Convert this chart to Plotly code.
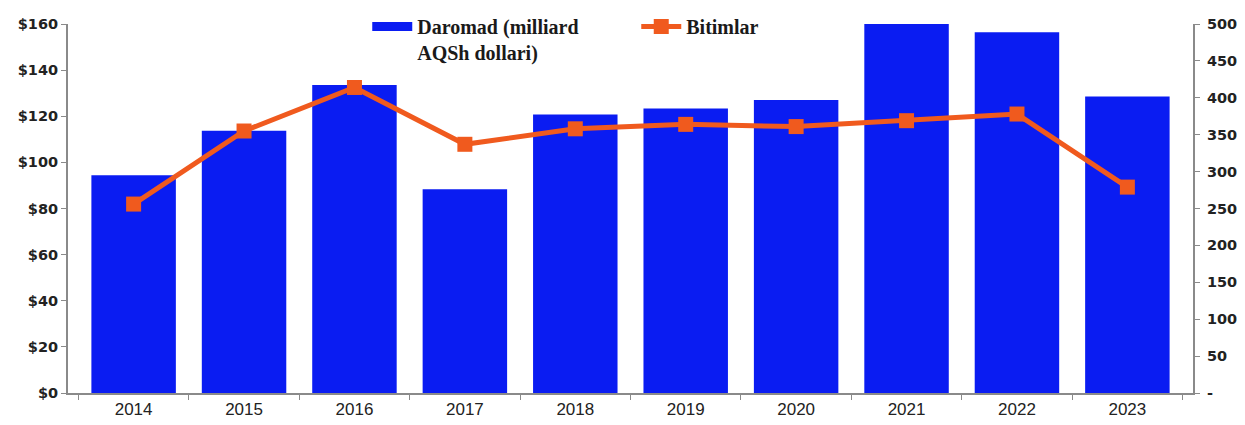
import plotly.graph_objects as go

years = ["2014", "2015", "2016", "2017", "2018", "2019", "2020", "2021", "2022", "2023"]
revenue = [94.4, 113.7, 133.6, 88.3, 120.8, 123.4, 127.1, 160.0, 156.4, 128.6]
deals = [256, 355, 414, 337, 358, 364, 361, 369, 378, 279]

left_vals = [0, 20, 40, 60, 80, 100, 120, 140, 160]
left_text = ["$0", "$20", "$40", "$60", "$80", "$100", "$120", "$140", "$160"]
right_vals = [0, 50, 100, 150, 200, 250, 300, 350, 400, 450, 500]
right_text = ["-", "50", "100", "150", "200", "250", "300", "350", "400", "450", "500"]

bar_name = "Daromad (milliard<br>AQSh dollari)"
line_name = "Bitimlar"

bar_color = "#0A1CF2"
line_color = "#F05A1E"

fig = go.Figure()
fig.add_trace(go.Bar(
    x=years, y=revenue, name=bar_name,
    marker=dict(color=bar_color, line=dict(width=0)),
    yaxis="y", showlegend=False, legendgroup="rev",
))
# legend entry for the bars, drawn as a wide flat swatch like the original
fig.add_trace(go.Scatter(
    x=[None], y=[None], name=bar_name, mode="lines",
    line=dict(color=bar_color, width=9),
    yaxis="y", legendgroup="rev", hoverinfo="skip",
))
fig.add_trace(go.Scatter(
    x=years, y=deals, name=line_name, mode="lines+markers",
    line=dict(color=line_color, width=5),
    marker=dict(symbol="square", size=15, color=line_color),
    yaxis="y2",
))

axis_col = "#8a8a8a"
ytick_font = dict(family="DejaVu Sans", size=14.5, color="#222222", weight="bold")
fig.update_layout(
    width=1245, height=425,
    margin=dict(l=68, r=52, t=24, b=32, autoexpand=False),
    paper_bgcolor="white", plot_bgcolor="white",
    bargap=0.235,
    showlegend=True,
    hovermode=False,
    legend=dict(
        orientation="h", x=0.266, y=1.046, xanchor="left", yanchor="top",
        font=dict(family="Liberation Serif", size=20, color="#1a1a1a", weight="bold"),
        bgcolor="rgba(255,255,255,0)", entrywidth=214, entrywidthmode="pixels",
        itemwidth=40, valign="top", traceorder="normal",
    ),
    xaxis=dict(
        type="category", showline=True, linecolor=axis_col, linewidth=2,
        ticks="outside", tickson="boundaries", ticklen=5, tickcolor=axis_col,
        tickfont=dict(family="Liberation Sans", size=17, color="#222222"),
        showgrid=False, automargin=False,
    ),
    yaxis=dict(
        range=[0, 160], tickvals=left_vals, ticktext=left_text,
        showline=True, linecolor=axis_col, linewidth=2,
        ticks="outside", ticklen=5, tickcolor=axis_col,
        tickfont=ytick_font,
        showgrid=False, zeroline=False, automargin=False,
    ),
    yaxis2=dict(
        range=[0, 500], tickvals=right_vals, ticktext=right_text,
        overlaying="y", side="right",
        showline=True, linecolor=axis_col, linewidth=2,
        ticks="outside", ticklen=5, tickcolor=axis_col,
        tickfont=ytick_font, ticklabelstandoff=4,
        showgrid=False, zeroline=False, automargin=False,
    ),
)

fig.write_html(
    "out.html",
    config={"displayModeBar": False},
    post_script="document.body.style.margin='0';document.documentElement.style.overflow='hidden';",
)
